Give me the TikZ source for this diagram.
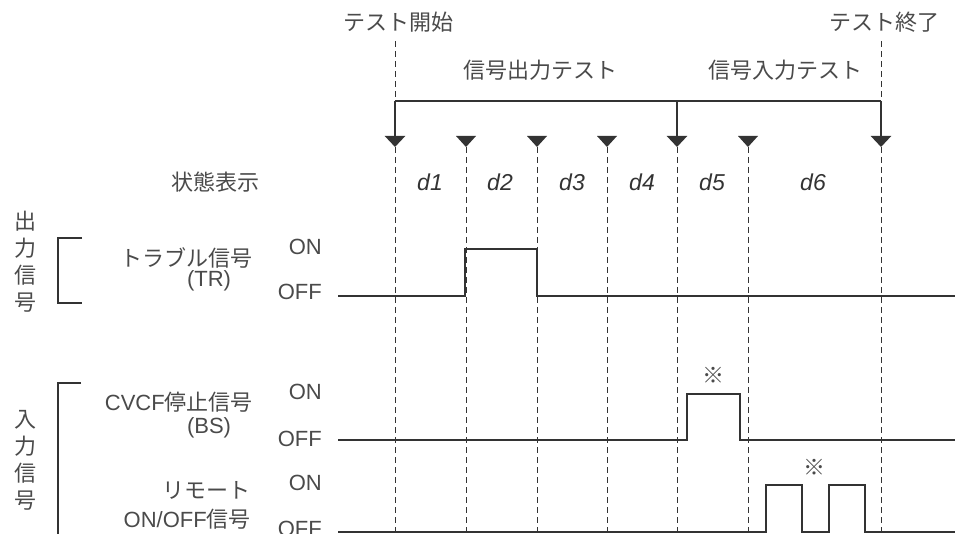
\documentclass[tikz,border=0pt]{standalone}
\usepackage{fontspec}
\setmainfont{Liberation Sans}
\newfontfamily\jp{Noto Sans CJK JP}
\usepackage{tikz}
\usetikzlibrary{arrows.meta,positioning}
\definecolor{txtgray}{HTML}{4A4A4A}
\definecolor{lngray}{HTML}{333333}

\begin{document}
\begin{tikzpicture}[x=1pt, y=-1pt,
    lbl/.style={text=txtgray, inner sep=0pt, font=\fontsize{22}{27}\selectfont},
    seg/.style={text=lngray, inner sep=0pt, font=\fontsize{23}{23}\selectfont\itshape},
    grid/.style={lngray, line width=0.9pt, dash pattern=on 6pt off 4pt},
    sig/.style={lngray, line width=2pt},
    brk/.style={lngray, line width=2.5pt},
    tip/.style={lngray, line width=2.5pt, -{Triangle[width=20pt,length=11pt]}}
  ]
  \useasboundingbox (0,0) rectangle (955,534);

  % time marks and dashed guides
  \foreach \n/\x in {a/395,b/466,c/537,d/607,e/677,f/748,g/881}{
    \coordinate (m\n) at (\x,147);
    \draw[grid] (m\n) -- (\x,534);
  }
  \foreach \x in {466,537,607,748}
    \fill[lngray] (\x-10,136) -- (\x+10,136) -- (\x,147) -- cycle;

  % test phases
  \node[lbl] (tstart) at (398,22) {\jp テスト開始};
  \node[lbl] (tend) at (884,22) {\jp テスト終了};
  \node[lbl] (outtest) at (540,70) {\jp 信号出力テスト};
  \node[lbl] (intest) at (785,70) {\jp 信号入力テスト};

  \coordinate (bl) at (395,101);
  \coordinate (br) at (881,101);
  \coordinate (bm) at (677,101);
  \draw[grid] ([yshift=-9pt]tstart.south -| bl) -- (bl);
  \draw[grid] ([yshift=-9pt]tend.south -| br) -- (br);
  \draw[brk] (bl) -- (br);
  \draw[tip] (bl) -- (ma);
  \draw[tip] (bm) -- (me);
  \draw[tip] (br) -- (mg);

  % status display
  \node[lbl] (state) at (215,182) {\jp 状態表示};
  \foreach \t/\x in {1/430,2/500,3/572,4/642,5/712,6/813}
    \node[seg] (d\t) at (\x,182) {d\t};

  % output signal
  \node[lbl, align=center] (outgrp) at (25,262) {\jp 出\\\jp 力\\\jp 信\\\jp 号};
  \draw[brk] (82,238) -- (58,238) -- (58,303) -- (82,303);
  \node[lbl, anchor=east] (trname) at (253,258) {\jp トラブル信号};
  \node[lbl] (trabbr) at (209,281) {(TR)};
  \node[lbl, anchor=east] (tron) at (322,247) {ON};
  \node[lbl, anchor=east] (troff) at (322,292) {OFF};
  \draw[sig] (338,296) -| (465,249) -| (537,296) -- (955,296);

  % input signals
  \node[lbl, align=center] (ingrp) at (25,460) {\jp 入\\\jp 力\\\jp 信\\\jp 号};
  \draw[brk] (81,383) -- (58,383) -- (58,534);
  \node[lbl, anchor=east] (bsname) at (253,402) {CVCF\jp 停止信号};
  \node[lbl] (bsabbr) at (209,428) {(BS)};
  \node[lbl, anchor=east] (bson) at (322,392) {ON};
  \node[lbl, anchor=east] (bsoff) at (322,439) {OFF};
  \draw[sig] (338,440) -| (687,394) -| (740,440) -- (955,440);
  \node[lbl] (bsnote) at (713,375) {\jp ※};

  \node[lbl, anchor=east] (rmname) at (251,490) {\jp リモート};
  \node[lbl, anchor=east] (rmname2) at (251,519) {ON/OFF\jp 信号};
  \node[lbl, anchor=east] (rmon) at (322,483) {ON};
  \node[lbl, anchor=east] (rmoff) at (322,529) {OFF};
  \draw[sig] (338,532) -| (766,485) -| (802,532) -| (829,485) -| (865,532) -- (955,532);
  \node[lbl] (rmnote) at (814,467) {\jp ※};
\end{tikzpicture}
\end{document}
